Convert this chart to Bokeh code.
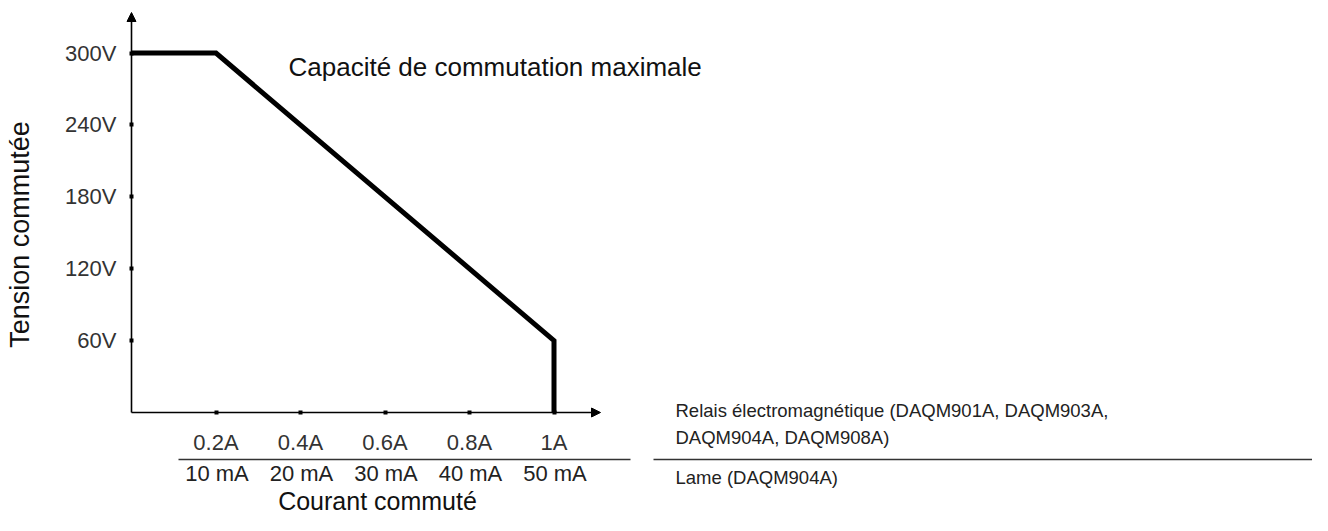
from bokeh.plotting import figure
from bokeh.models import LinearAxis, FixedTicker, Range1d, Arrow, NormalHead
from bokeh.core.properties import value
from bokeh.embed import file_html
from bokeh.resources import INLINE
import math

# ---- data ----
current_a = [0.0, 0.2, 1.0, 1.0]
voltage_v = [300, 300, 60, 0]
volt_ticks = [60, 120, 180, 240, 300]
volt_labels = ["60V", "120V", "180V", "240V", "300V"]
amp_ticks = [0.2, 0.4, 0.6, 0.8, 1.0]
amp_labels = ["0.2A", "0.4A", "0.6A", "0.8A", "1A"]
reed_labels = ["10 mA", "20 mA", "30 mA", "40 mA", "50 mA"]
title_text = "Capacité de commutation maximale"
y_title = "Tension commutée"
x_title = "Courant commuté"
relay_lines = ["Relais électromagnétique (DAQM901A, DAQM903A,", "DAQM904A, DAQM908A)"]
reed_line = "Lame (DAQM904A)"

# ---- layout (figure pixels -> data units) ----
W, H = 1312, 515
OX, OY = 131, 412          # pixel of origin
PXA, PXV = 422.5, 1.198    # pixels per amp / per volt
def fx(px):
    return (px - OX) / PXA
def fy(py):
    return (OY - py) / PXV

FONT = value("Liberation Sans")

p = figure(width=W, height=H,
           x_range=Range1d(fx(0), fx(W)), y_range=Range1d(fy(H), fy(0)),
           x_axis_type=None, y_axis_type=None,
           toolbar_location=None, output_backend="svg",
           min_border=0, outline_line_color=None,
           background_fill_color="white", border_fill_color="white")

def style_axis(ax):
    ax.axis_line_color = None
    ax.minor_tick_line_color = None
    ax.major_tick_in = 2
    ax.major_tick_out = 2
    ax.major_tick_line_width = 4
    ax.major_tick_line_color = "black"
    ax.major_label_text_font = "Liberation Sans"
    ax.major_label_text_font_size = "22px"
    ax.major_label_text_color = "#333333"

yaxis = LinearAxis(fixed_location=0, ticker=FixedTicker(ticks=volt_ticks),
                   major_label_overrides={t: l for t, l in zip(volt_ticks, volt_labels)})
style_axis(yaxis)
yaxis.major_label_standoff = 13
p.add_layout(yaxis, "left")

xaxis = LinearAxis(fixed_location=0, ticker=FixedTicker(ticks=amp_ticks),
                   major_label_overrides={t: l for t, l in zip(amp_ticks, amp_labels)})
style_axis(xaxis)
xaxis.major_label_standoff = 15
p.add_layout(xaxis, "below")

# axis lines with arrows
p.add_layout(Arrow(end=NormalHead(size=9, fill_color="black", line_color="black"),
                   x_start=0, y_start=0, x_end=0, y_end=fy(12),
                   line_width=1.6, line_color="black"))
p.add_layout(Arrow(end=NormalHead(size=9, fill_color="black", line_color="black"),
                   x_start=0, y_start=0, x_end=fx(600), y_end=0,
                   line_width=1.6, line_color="black"))

# max switching curve
p.line(current_a, voltage_v, line_width=5, line_color="black", line_join="miter")

# title
p.text(x=[fx(288)], y=[fy(66)], text=[title_text], text_font=FONT,
       text_font_size="26px", text_color="#111111",
       text_align="left", text_baseline="middle")

# y title
p.text(x=[fx(19)], y=[fy(234)], text=[y_title], text_font=FONT,
       text_font_size="27px", text_color="#111111", angle=math.pi / 2,
       text_align="center", text_baseline="middle")

# reed current labels (second row)
p.text(x=amp_ticks, y=[fy(473)] * len(amp_ticks), text=reed_labels, text_font=FONT,
       text_font_size="22px", text_color="#222222",
       text_align="center", text_baseline="middle", x_offset=1)

# separator lines
sep_y = fy(459)
p.segment(x0=[fx(178), fx(653)], y0=[sep_y, sep_y], x1=[fx(630), fx(1340)], y1=[sep_y, sep_y],
          line_color="#333333", line_width=1.3)

# legend texts on the right
p.text(x=[fx(675), fx(675)], y=[fy(410), fy(437)], text=relay_lines, text_font=FONT,
       text_font_size="18.5px", text_color="#222222",
       text_align="left", text_baseline="middle")
p.text(x=[fx(675)], y=[fy(477)], text=[reed_line], text_font=FONT,
       text_font_size="18.5px", text_color="#222222",
       text_align="left", text_baseline="middle")

# x title
p.text(x=[fx(377)], y=[fy(514.5)], text=[x_title], text_font=FONT,
       text_font_size="25px", text_color="#111111",
       text_align="center", text_baseline="bottom")

open("out.html", "w").write(file_html(p, INLINE))
